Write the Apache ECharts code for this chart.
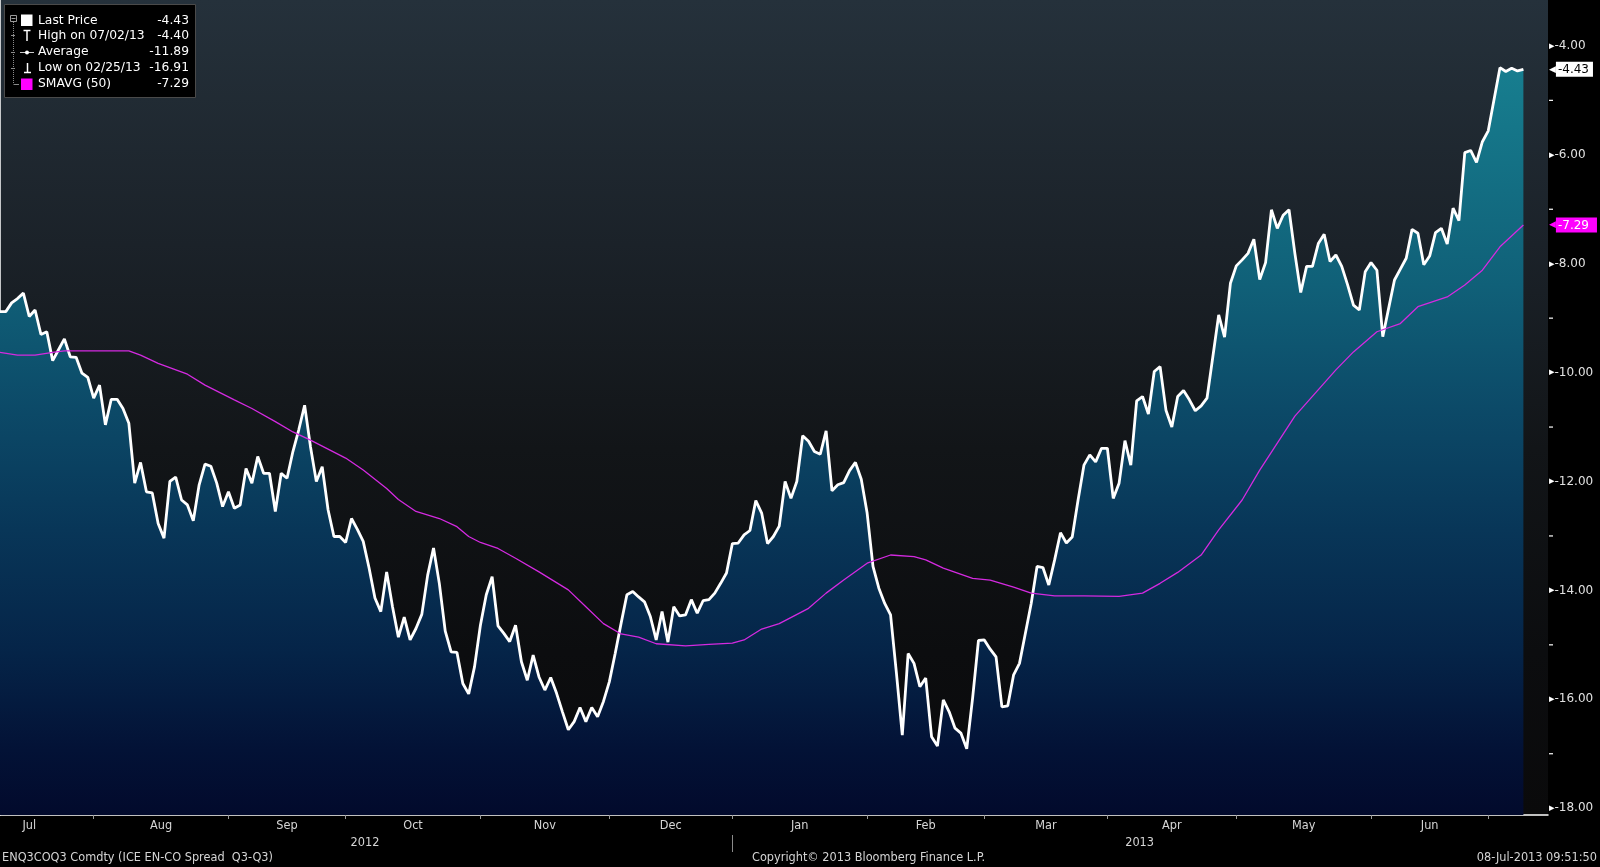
<!DOCTYPE html>
<html><head><meta charset="utf-8">
<script src="https://cdn.jsdelivr.net/npm/echarts@6/dist/echarts.min.js"></script>
<style>html,body{margin:0;padding:0;background:#000;}#c{width:1600px;height:867px;}</style>
</head><body><div id="c"></div>
<script>
// ---- Daily prices (ICE EN-CO spread Q3-Q3), one array per month ----
const jul2012 = [-8.88,-8.88,-8.72,-8.64,-8.54,-8.97,-8.85,-9.30,-9.25,-9.78,-9.58,-9.38,-9.71,-9.72,-10.01,-10.09];
const aug2012 = [-10.47,-10.23,-10.96,-10.49,-10.49,-10.66,-10.93,-12.03,-11.65,-12.19,-12.21,-12.77,-13.04,-12.00,-11.92,-12.34,-12.43,-12.72,-12.06,-11.68,-11.72,-12.03,-12.46];
const sep2012 = [-12.19,-12.49,-12.43,-11.76,-12.03,-11.54,-11.85,-11.85,-12.55,-11.85,-11.94,-11.45,-11.05,-10.60,-11.36,-12.00,-11.73,-12.52,-13.01,-13.01];
const oct2012 = [-13.12,-12.68,-12.88,-13.10,-13.59,-14.14,-14.39,-13.66,-14.30,-14.86,-14.49,-14.91,-14.70,-14.44,-13.72,-13.22,-13.88,-14.75,-15.13,-15.14,-15.71,-15.90,-15.40];
const nov2012 = [-14.64,-14.08,-13.75,-14.65,-14.79,-14.94,-14.64,-15.31,-15.65,-15.19,-15.59,-15.83,-15.60,-15.89,-16.23,-16.56,-16.41,-16.15,-16.41,-16.15,-16.32,-16.04];
const dec2012 = [-15.68,-15.16,-14.61,-14.08,-14.02,-14.12,-14.21,-14.48,-14.91,-14.39,-14.95,-14.30,-14.47,-14.45,-14.17,-14.42,-14.19,-14.17,-14.05,-13.87,-13.68];
const jan2013 = [-13.14,-13.13,-12.98,-12.90,-12.35,-12.58,-13.14,-13.01,-12.82,-12.00,-12.31,-12.00,-11.16,-11.26,-11.45,-11.50,-11.07,-12.17,-12.06,-12.02,-11.80,-11.65,-11.96];
const feb2013 = [-12.58,-13.56,-13.96,-14.24,-14.45,-15.52,-16.66,-15.16,-15.34,-15.77,-15.61,-16.69,-16.86,-16.01,-16.23,-16.53,-16.62,-16.91,-15.98,-14.92];
const mar2013 = [-14.91,-15.08,-15.22,-16.14,-16.12,-15.55,-15.34,-14.79,-14.24,-13.56,-13.58,-13.90,-13.44,-12.94,-13.13,-13.02,-12.34,-11.70,-11.51,-11.64,-11.39];
const apr2013 = [-11.39,-12.31,-12.03,-11.25,-11.70,-10.52,-10.44,-10.76,-9.98,-9.89,-10.69,-11.00,-10.44,-10.33,-10.50,-10.70,-10.61,-10.47,-9.71,-8.94,-9.35,-8.36];
const may2013 = [-8.04,-7.93,-7.81,-7.55,-8.29,-7.98,-7.01,-7.35,-7.11,-7.01,-7.81,-8.53,-8.05,-8.05,-7.63,-7.46,-7.96,-7.84,-8.05,-8.39,-8.76,-8.85,-8.15];
const jun2013 = [-7.98,-8.12,-9.34,-8.82,-8.30,-8.10,-7.90,-7.37,-7.44,-8.02,-7.86,-7.43,-7.35,-7.64,-6.98,-7.21,-5.96,-5.92,-6.14,-5.76];
const jul2013 = [-5.56,-4.98,-4.40,-4.47,-4.41,-4.46,-4.43];

// ---- 50-day simple moving average, read at trading-day positions ----
const smaDay   = [0,3,6,9,11,17,22,24,27,32,35,40,43,47,50,53,59,62,66,68,71,75,78,80,82,85,88,92,97,100,103,106,109,112,117,121,125,127,130,133,138,141,144,148,152,156,158,161,166,169,173,176,180,185,191,195,198,201,205,208,212,215,221,228,231,235,239,242,247,250,253,256,260];
const smaValue = [-9.63,-9.68,-9.68,-9.63,-9.60,-9.60,-9.60,-9.68,-9.83,-10.03,-10.23,-10.50,-10.66,-10.90,-11.09,-11.24,-11.57,-11.79,-12.13,-12.33,-12.55,-12.68,-12.83,-13.01,-13.12,-13.23,-13.41,-13.66,-13.99,-14.30,-14.61,-14.80,-14.86,-14.98,-15.02,-14.99,-14.97,-14.91,-14.71,-14.61,-14.33,-14.05,-13.81,-13.50,-13.35,-13.38,-13.44,-13.59,-13.78,-13.81,-13.94,-14.05,-14.10,-14.10,-14.11,-14.05,-13.87,-13.67,-13.35,-12.89,-12.34,-11.79,-10.80,-9.95,-9.62,-9.25,-9.10,-8.79,-8.61,-8.39,-8.12,-7.69,-7.29];

// ---- Axis text ----
const monthNames = ['Jul','Aug','Sep','Oct','Nov','Dec','Jan','Feb','Mar','Apr','May','Jun','Jul'];
const yearLabels = ['2012','2013'];
const yTickLabels = [-18,-16,-14,-12,-10,-8,-6,-4];
const yMinorTicks = [-17,-15,-13,-11,-9,-7,-5];
const legendNames = ['Last Price','High on 07/02/13','Average','Low on 02/25/13','SMAVG (50)'];
const legendValues = ['-4.43','-4.40','-11.89','-16.91','-7.29'];
const footerLeft = 'ENQ3COQ3 Comdty (ICE EN-CO Spread  Q3-Q3)';
const footerMid = 'Copyright\u00a9 2013 Bloomberg Finance L.P.';
const footerRight = '08-Jul-2013 09:51:50';

// ---- build series ----
const months = [jul2012,aug2012,sep2012,oct2012,nov2012,dec2012,jan2013,feb2013,mar2013,apr2013,may2013,jun2013,jul2013];
const prices = [].concat(...months);
const priceData = prices.map((v,i)=>[i,v]);
const smaData = smaDay.map((d,i)=>[d,smaValue[i]]);
const starts = []; let acc = 0;
months.forEach(m=>{starts.push(acc); acc += m.length;});
const monthTicks = starts.slice(1);
const firstMonthStart = starts[1] - 22; // July 2012 had 22 trading days
const monthMids = [];
for (let k=0;k<12;k++){ const s = k===0 ? firstMonthStart : starts[k]; monthMids.push((s+starts[k+1])/2); }
const yearSplit = [starts[6]];
const yearLabelAt = [62.3, 194.5];
const lastPrice = prices[prices.length-1];
const lastSma = smaValue[smaValue.length-1];

const X_MIN = -0.5, X_MAX = 264.2, Y_MIN = -18.125, Y_MAX = -3.157;
const NARROW = '"Liberation Sans Narrow","DejaVu Sans Condensed",sans-serif';
const SANS = '"DejaVu Sans",Verdana,sans-serif';

const chart = echarts.init(document.getElementById('c'), null, {renderer:'canvas'});

function lookup(arr, names, v){
  for (let i=0;i<arr.length;i++) if (Math.abs(arr[i]-v) < 1e-6) return names[i];
  return '';
}
function yLabel(v){
  if (Math.abs(v-lastPrice) < 1e-9) return '{pa|\u25C0}{pb|'+v.toFixed(2)+'}';
  if (Math.abs(v-lastSma) < 1e-9) return '{ma|\u25C0}{mb|'+v.toFixed(2)+'}';
  if (yMinorTicks.indexOf(v) >= 0) return '{o| }';
  return '{t|\u25B8}{v|'+v.toFixed(2)+'}';
}

const legendRows = [20.7, 35.7, 52.3, 68.3, 84];
const legendGraphics = [
  {type:'rect', shape:{x:4.5,y:4.5,width:191,height:93}, style:{fill:'#000',stroke:'#4a4a4a',lineWidth:1}},
  {type:'rect', shape:{x:10.5,y:15.5,width:6,height:6}, style:{fill:'none',stroke:'#9a9a9a',lineWidth:1}},
  {type:'line', shape:{x1:11.5,y1:18.5,x2:15.5,y2:18.5}, style:{stroke:'#9a9a9a',lineWidth:1}},
  {type:'line', shape:{x1:13.5,y1:22,x2:13.5,y2:84}, style:{stroke:'#8a8a8a',lineWidth:1,lineDash:[1,1]}},
  {type:'line', shape:{x1:11,y1:35.5,x2:15,y2:35.5}, style:{stroke:'#8a8a8a',lineWidth:1}},
  {type:'line', shape:{x1:11,y1:52.5,x2:15,y2:52.5}, style:{stroke:'#8a8a8a',lineWidth:1}},
  {type:'line', shape:{x1:11,y1:68.5,x2:15,y2:68.5}, style:{stroke:'#8a8a8a',lineWidth:1}},
  {type:'line', shape:{x1:13.5,y1:84.5,x2:19,y2:84.5}, style:{stroke:'#8a8a8a',lineWidth:1}},
  {type:'rect', shape:{x:21,y:14.5,width:11.5,height:11.5}, style:{fill:'#fff'}},
  {type:'line', shape:{x1:23.5,y1:30.5,x2:30.5,y2:30.5}, style:{stroke:'#fff',lineWidth:1.5}},
  {type:'line', shape:{x1:27,y1:30.5,x2:27,y2:41}, style:{stroke:'#fff',lineWidth:1.5}},
  {type:'line', shape:{x1:20,y1:52.5,x2:34,y2:52.5}, style:{stroke:'#ccc',lineWidth:1}},
  {type:'circle', shape:{cx:27,cy:52.5,r:2}, style:{fill:'#fff'}},
  {type:'line', shape:{x1:27.5,y1:63,x2:27.5,y2:72.5}, style:{stroke:'#fff',lineWidth:1.5}},
  {type:'line', shape:{x1:24,y1:72.5,x2:31,y2:72.5}, style:{stroke:'#fff',lineWidth:1.5}},
  {type:'rect', shape:{x:21,y:78.5,width:11.5,height:11.5}, style:{fill:'#ff00ff'}}
];
legendNames.forEach((n,i)=>{
  legendGraphics.push({type:'text', style:{text:n, x:38, y:legendRows[i], fill:'#fff', font:'12.3px '+SANS, textAlign:'left', textVerticalAlign:'middle'}});
  legendGraphics.push({type:'text', style:{text:legendValues[i], x:189, y:legendRows[i], fill:'#fff', font:'12.3px '+SANS, textAlign:'right', textVerticalAlign:'middle'}});
});
const footerGraphics = [
  {type:'text', style:{text:footerLeft, x:2, y:858, fill:'#d4d4d4', font:'12.6px '+NARROW, textAlign:'left', textVerticalAlign:'middle'}},
  {type:'text', style:{text:footerMid, x:752, y:858, fill:'#d4d4d4', font:'12.6px '+NARROW, textAlign:'left', textVerticalAlign:'middle'}},
  {type:'text', style:{text:footerRight, x:1597, y:858, fill:'#d4d4d4', font:'12.6px '+NARROW, textAlign:'right', textVerticalAlign:'middle'}}
];

const gridBg = new echarts.graphic.LinearGradient(0,0,0,1,[
  {offset:0,color:'#25313b'},{offset:0.3,color:'#1b2229'},{offset:0.55,color:'#121518'},{offset:0.8,color:'#0c0d0f'},{offset:1,color:'#0a0a0b'}]);
const areaFill = {type:'linear', x:0, y:0, x2:0, y2:815, global:true, colorStops:[
  {offset:0,color:'#1a8696'},{offset:0.12,color:'#167a8c'},{offset:0.35,color:'#106078'},{offset:0.5,color:'#0c4a68'},
  {offset:0.65,color:'#083658'},{offset:0.8,color:'#052448'},{offset:0.92,color:'#031236'},{offset:1,color:'#020a2c'}]};

const option = {
  backgroundColor:'#000',
  animation:false,
  grid:{left:-3,right:52,top:0,bottom:52,show:true,backgroundColor:gridBg,borderWidth:0,borderColor:'rgba(0,0,0,0)',containLabel:false,outerBoundsMode:'none'},
  xAxis:[
    {type:'value', min:X_MIN, max:X_MAX, position:'bottom',
     axisLine:{show:true,lineStyle:{color:'#fff',width:1.5}},
     axisTick:{show:true,customValues:monthTicks,length:4,lineStyle:{color:'#9a9a9a'}},
     axisLabel:{customValues:monthMids, formatter:v=>lookup(monthMids,monthNames,v), color:'#d6d6d6', fontFamily:NARROW, fontSize:12.6, margin:4},
     splitLine:{show:false}},
    {type:'value', min:X_MIN, max:X_MAX, position:'bottom', offset:20,
     axisLine:{show:false},
     axisTick:{show:true,customValues:yearSplit,length:17,lineStyle:{color:'#8a8a8a'}},
     axisLabel:{customValues:yearLabelAt, formatter:v=>lookup(yearLabelAt,yearLabels,v), color:'#d6d6d6', fontFamily:NARROW, fontSize:12.6, margin:1},
     splitLine:{show:false}}
  ],
  yAxis:[
    {type:'value', min:Y_MIN, max:Y_MAX, position:'right',
     axisLine:{show:true,lineStyle:{color:'#fff',width:1.5}},
     axisTick:{show:false},
     axisLabel:{customValues:yTickLabels.concat(yMinorTicks,[lastPrice,lastSma]), margin:1, formatter:yLabel,
       rich:{t:{color:'#fff',fontSize:11,fontFamily:SANS},
             v:{color:'#e0e0e0',fontSize:12,fontFamily:SANS},
             o:{backgroundColor:'#ffffff',width:4,height:1.2,lineHeight:1.2,fontSize:1},
             pa:{color:'#ffffff',fontSize:9,fontFamily:SANS},
             pb:{backgroundColor:'#ffffff',color:'#000000',fontSize:12,fontFamily:SANS,padding:[2,4,1,2],lineHeight:14},
             ma:{color:'#ff00ff',fontSize:9,fontFamily:SANS},
             mb:{backgroundColor:'#ff00ff',color:'#ffffff',fontSize:12,fontFamily:SANS,padding:[2,8,1,2],lineHeight:14}}},
     splitLine:{show:false}}
  ],
  series:[
    {type:'line', name:'Last Price', data:priceData, showSymbol:false,
     lineStyle:{color:'#ffffff',width:2.8}, areaStyle:{origin:'start',color:areaFill,opacity:1}, z:3},
    {type:'line', name:'SMAVG (50)', data:smaData, showSymbol:false, connectNulls:true,
     lineStyle:{color:'#d42ae0',width:1.3}, z:4}
  ],
  graphic:{elements: legendGraphics.concat(footerGraphics)}
};
chart.setOption(option);
</script></body></html>
